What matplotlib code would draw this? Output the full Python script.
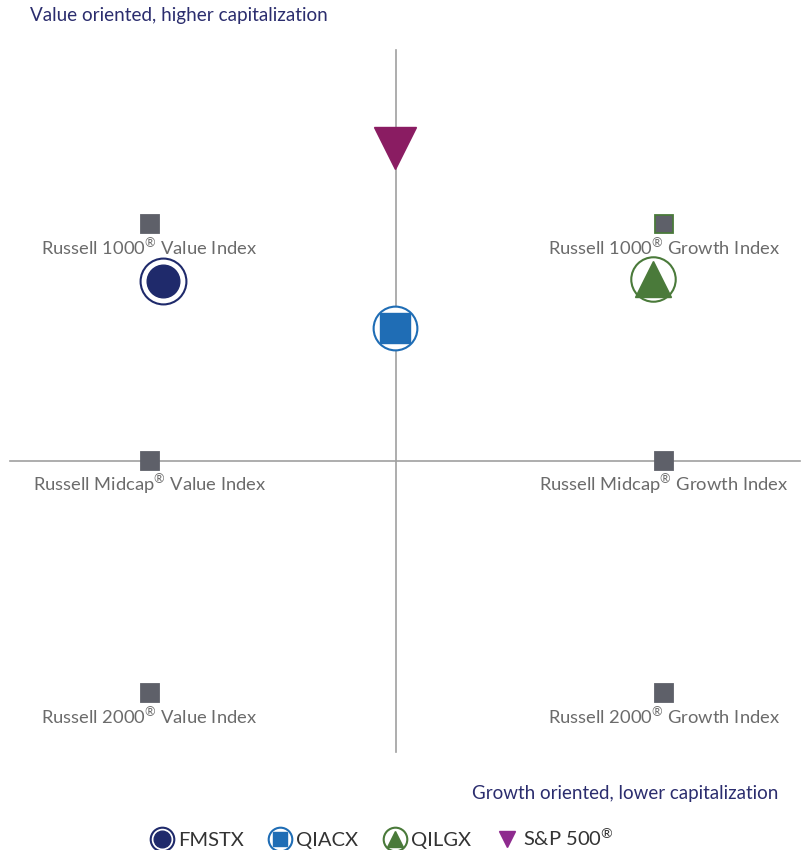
import matplotlib
matplotlib.use("Agg")
import matplotlib.pyplot as plt
from matplotlib.lines import Line2D
from matplotlib.legend_handler import HandlerTuple

plt.rcParams['font.family'] = ['Lato', 'DejaVu Sans']
plt.rcParams['mathtext.fontset'] = 'custom'
plt.rcParams['mathtext.rm'] = 'Lato'
plt.rcParams['mathtext.it'] = 'Lato:italic'
plt.rcParams['mathtext.bf'] = 'Lato:bold'

# Style box: x = style (value < 0 < growth), y = capitalization
index_names = [r"Russell 1000$^{\circledR}$ Value Index", r"Russell 1000$^{\circledR}$ Growth Index",
               r"Russell Midcap$^{\circledR}$ Value Index", r"Russell Midcap$^{\circledR}$ Growth Index",
               r"Russell 2000$^{\circledR}$ Value Index", r"Russell 2000$^{\circledR}$ Growth Index"]
index_x = [-92, 100, -92, 100, -92, 100]
index_y = [100, 100, 0, 0, -98, -98]

fund_names = ["FMSTX", "QIACX", "QILGX", r"S&P 500$^{\circledR}$"]
fund_x = [-87, -0.5, 96, -0.5]
fund_y = [76, 56, 77, 132]

navy = "#1f2a6b"
blue = "#1f6db5"
green = "#4a7a3a"
plum = "#8a1c62"
box_grey = "#5e6069"
label_grey = "#6b6b6b"

fig = plt.figure(figsize=(8.01, 8.5), dpi=100)
ax = fig.add_axes([0, 0, 1, 1])
ax.set_xlim(-147.8, 151.1)
ax.set_ylim(-164.1, 194.5)
ax.axis('off')

# quadrant lines
ax.plot([-144, 150.7], [0, 0], color="#a0a0a0", lw=1.2, zorder=1)
ax.plot([0, 0], [173.4, -122.8], color="#a0a0a0", lw=1.2, zorder=1)

# index boxes and labels
for i, (name, x, y) in enumerate(zip(index_names, index_x, index_y)):
    edge = green if i == 1 else box_grey
    ax.plot(x, y, marker='s', ms=13, mfc=box_grey, mec=edge, mew=1.3, ls='none', zorder=2)
    ax.text(x, y - 10, name, ha='center', va='center', fontsize=13.2, color=label_grey, zorder=3)

# funds
ax.plot(fund_x[0], fund_y[0], marker='o', ms=33, mfc='white', mec=navy, mew=1.5, ls='none', zorder=4)
ax.plot(fund_x[0], fund_y[0], marker='o', ms=23.5, mfc=navy, mec=navy, ls='none', zorder=5)

ax.plot(fund_x[1], fund_y[1], marker='o', ms=31.5, mfc='white', mec=blue, mew=1.5, ls='none', zorder=4)
ax.plot(fund_x[1], fund_y[1], marker='s', ms=21, mfc=blue, mec=blue, ls='none', zorder=5)

ax.plot(fund_x[2], fund_y[2], marker='o', ms=32, mfc='white', mec=green, mew=1.5, ls='none', zorder=4)
ax.plot(fund_x[2], fund_y[2], marker='^', ms=26, mfc=green, mec=green, ls='none', zorder=5)

ax.plot(fund_x[3], fund_y[3], marker='v', ms=30, mfc=plum, mec=plum, ls='none', zorder=5)

# corner captions
fig.text(30 / 801, 1 - 15 / 850, "Value oriented, higher capitalization", ha='left', va='center',
         fontsize=13.6, color="#2b2d6e")
fig.text(778 / 801, 1 - 793 / 850, "Growth oriented, lower capitalization", ha='right', va='center',
         fontsize=13.5, color="#2b2d6e")

# legend
h_fm = (Line2D([], [], marker='o', ms=17, mfc='white', mec=navy, mew=1.5, ls='none'),
        Line2D([], [], marker='o', ms=12, mfc=navy, mec=navy, ls='none'))
h_qa = (Line2D([], [], marker='o', ms=17, mfc='white', mec=blue, mew=1.5, ls='none'),
        Line2D([], [], marker='s', ms=10.5, mfc=blue, mec=blue, ls='none'))
h_ql = (Line2D([], [], marker='o', ms=17, mfc='white', mec=green, mew=1.5, ls='none'),
        Line2D([], [], marker='^', ms=12, mfc=green, mec=green, ls='none'))
h_sp = Line2D([], [], marker='v', ms=11, mfc="#8e2a8e", mec="#8e2a8e", ls='none')

fig.legend([h_fm, h_qa, h_ql, h_sp], fund_names, ncol=4, loc='center',
           bbox_to_anchor=(382 / 801, 1 - 838 / 850), frameon=False, fontsize=14.5,
           handler_map={tuple: HandlerTuple(ndivide=1, pad=0)},
           handlelength=1.2, handletextpad=0.2, columnspacing=1.2, labelcolor="#333333")

fig.savefig("out.png", dpi=100)
